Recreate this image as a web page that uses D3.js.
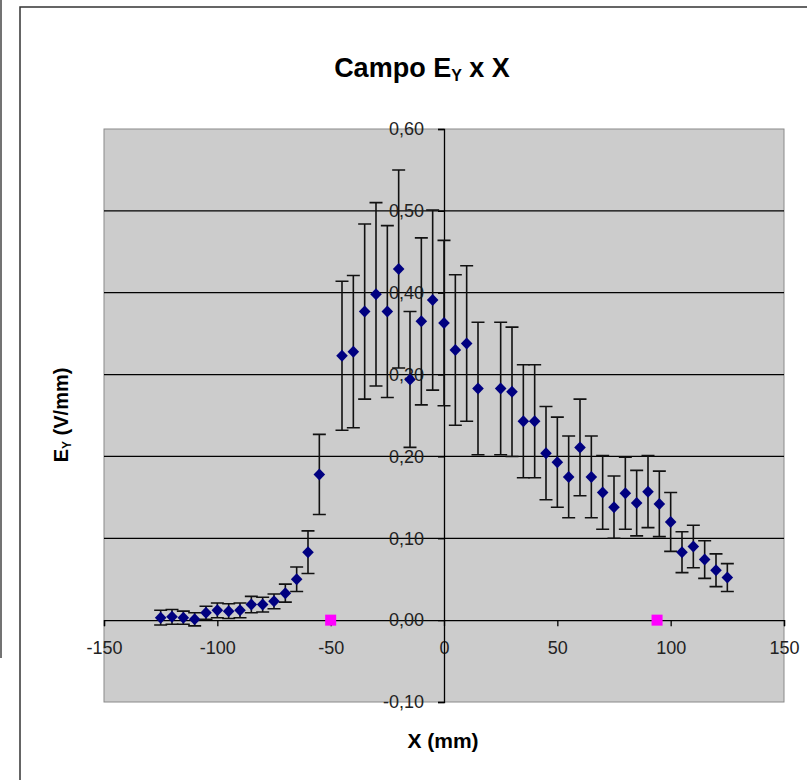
<!DOCTYPE html>
<html>
<head>
<meta charset="utf-8">
<script src="https://cdn.jsdelivr.net/npm/d3@7"></script>
<style>
  html, body { margin: 0; padding: 0; background: #fff; }
  svg { display: block; }
  text { font-family: "Liberation Sans", Arial, sans-serif; }
</style>
</head>
<body>
<svg id="chart" width="807" height="780"></svg>
<script>
// ---- data ----
const xValues = [-125, -120, -115, -110, -105, -100, -95, -90, -85, -80, -75, -70, -65, -60, -55,
  -45, -40, -35, -30, -25, -20, -15, -10, -5, 0, 5, 10, 15,
  25, 30, 35, 40, 45, 50, 55, 60, 65, 70, 75, 80, 85, 90, 95, 100, 105, 110, 115, 120, 125];
const eyValues = [0.003, 0.004, 0.003, 0.001, 0.009, 0.012, 0.011, 0.012, 0.019, 0.019, 0.023, 0.033, 0.050, 0.083, 0.178,
  0.323, 0.328, 0.377, 0.398, 0.377, 0.429, 0.294, 0.365, 0.391, 0.363, 0.330, 0.338, 0.283,
  0.283, 0.279, 0.243, 0.243, 0.204, 0.193, 0.175, 0.211, 0.175, 0.156, 0.138, 0.155, 0.143, 0.157, 0.142, 0.120, 0.083, 0.090, 0.074, 0.061, 0.052];
const errValues = [0.009, 0.009, 0.008, 0.008, 0.008, 0.009, 0.009, 0.009, 0.010, 0.009, 0.009, 0.011, 0.015, 0.026, 0.049,
  0.091, 0.093, 0.107, 0.112, 0.105, 0.121, 0.083, 0.102, 0.110, 0.101, 0.092, 0.095, 0.081,
  0.081, 0.079, 0.069, 0.069, 0.057, 0.055, 0.050, 0.059, 0.050, 0.045, 0.038, 0.044, 0.040, 0.044, 0.040, 0.036, 0.025, 0.026, 0.023, 0.020, 0.017];
const plateX = [-50, 94];
const plateY = [0, 0];
const xTicks = [-150, -100, -50, 0, 50, 100, 150];
const yTicks = [-0.1, 0, 0.1, 0.2, 0.3, 0.4, 0.5, 0.6];

// ---- layout ----
const svg = d3.select("#chart");
const pLeft = 104, pRight = 784, pTop = 129, pBottom = 702;

const x = d3.scaleLinear().domain([-150, 150]).range([pLeft, pRight]);
const y = d3.scaleLinear().domain([-0.1, 0.6]).range([pBottom, pTop]);
const fmtY = v => d3.format(".2f")(v).replace(".", ",").replace("−", "-");

// decorative frame lines
svg.append("line").attr("x1", 1).attr("x2", 1).attr("y1", 0).attr("y2", 658)
  .attr("stroke", "#444").attr("stroke-width", 1.5);
svg.append("path").attr("d", `M20,780 V7 H807`)
  .attr("fill", "none").attr("stroke", "#333").attr("stroke-width", 1.5);

// plot area
svg.append("rect").attr("x", pLeft).attr("y", pTop)
  .attr("width", pRight - pLeft).attr("height", pBottom - pTop)
  .attr("fill", "#cccccc").attr("stroke", "#8a8a8a").attr("stroke-width", 1);

// gridlines
svg.append("g").selectAll("line")
  .data(yTicks.filter(v => v > -0.05 && v < 0.55 && Math.abs(v) > 1e-9))
  .join("line")
  .attr("x1", pLeft).attr("x2", pRight)
  .attr("y1", d => y(d)).attr("y2", d => y(d))
  .attr("stroke", "#000").attr("stroke-width", 1.3);

// x axis at y = 0
const xAxis = d3.axisBottom(x).tickValues(xTicks).tickSize(6).tickFormat(d => d3.format("d")(d).replace("−", "-"));
const gx = svg.append("g").attr("transform", `translate(0,${y(0)})`).call(xAxis);
gx.select(".domain").attr("stroke", "#000").attr("stroke-width", 1.3);
gx.selectAll(".tick line").attr("stroke", "#000").attr("stroke-width", 1.3);
gx.selectAll(".tick text").attr("font-size", 18).attr("fill", "#222")
  .attr("font-family", "Liberation Sans, Arial, sans-serif").attr("dy", "1.4em");

// y axis at x = 0
const yAxis = d3.axisLeft(y).tickValues(yTicks).tickSize(6).tickPadding(14).tickFormat(fmtY);
const gy = svg.append("g").attr("transform", `translate(${x(0)},0)`).call(yAxis);
gy.select(".domain").attr("stroke", "#000").attr("stroke-width", 1.3);
gy.selectAll(".tick line").attr("stroke", "#000").attr("stroke-width", 1.3);
gy.selectAll(".tick text").attr("font-size", 18).attr("fill", "#222")
  .attr("font-family", "Liberation Sans, Arial, sans-serif");

// data
const data = xValues.map((xv, i) => ({ x: xv, y: eyValues[i], e: errValues[i] }));

const eb = svg.append("g").attr("stroke", "#111").attr("stroke-width", 1.6).attr("fill", "none");
eb.selectAll("path").data(data).join("path")
  .attr("d", d => {
    const cx = x(d.x), y1 = y(d.y + d.e), y2 = y(d.y - d.e);
    return `M${cx},${y1}V${y2}M${cx - 6.5},${y1}H${cx + 6.5}M${cx - 6.5},${y2}H${cx + 6.5}`;
  });

svg.append("g").selectAll("path").data(data).join("path")
  .attr("transform", d => `translate(${x(d.x)},${y(d.y)})`)
  .attr("d", "M0,-6L5.8,0L0,6L-5.8,0Z")
  .attr("fill", "#000080");

// plates
svg.append("g").selectAll("rect").data(plateX.map((v, i) => ({ x: v, y: plateY[i] }))).join("rect")
  .attr("x", d => x(d.x) - 5.5).attr("y", d => y(d.y) - 5.5)
  .attr("width", 11).attr("height", 11).attr("fill", "#ff00ff");

// title
const title = svg.append("text").attr("x", 422).attr("y", 77)
  .attr("text-anchor", "middle").attr("font-size", 27).attr("font-weight", "bold").attr("fill", "#000");
title.append("tspan").text("Campo E");
title.append("tspan").attr("font-size", 16).attr("dy", 4).text("Y");
title.append("tspan").attr("dy", -4).text(" x X");

// axis titles
svg.append("text").attr("x", 443).attr("y", 748).attr("text-anchor", "middle")
  .attr("font-size", 21).attr("font-weight", "bold").text("X (mm)");

const yt = svg.append("text").attr("transform", "translate(68,415) rotate(-90)")
  .attr("text-anchor", "middle").attr("font-size", 20).attr("font-weight", "bold");
yt.append("tspan").text("E");
yt.append("tspan").attr("font-size", 12).attr("dy", 3).text("Y");
yt.append("tspan").attr("dy", -3).text(" (V/mm)");
</script>
</body>
</html>
